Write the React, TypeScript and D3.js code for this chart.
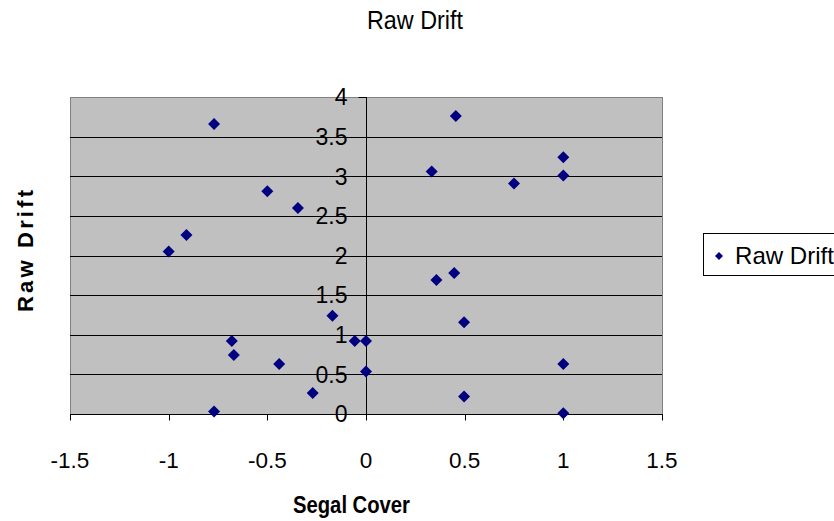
import React, { useEffect, useRef } from 'react';
import * as d3 from 'd3';

// Segal Cover (x) vs Raw Drift (y)
const segalCover = [
  -0.77, -0.5, -0.345, -0.91, -1.0, -0.17, -0.68, -0.67, -0.44, -0.27, -0.057, 0.0, 0.0, -0.77,
  0.455, 1.0, 0.333, 1.0, 0.75, 0.447, 0.357, 0.497, 1.0, 0.497, 1.0,
];
const rawDrift = [
  3.66, 2.81, 2.6, 2.26, 2.05, 1.24, 0.92, 0.745, 0.63, 0.265, 0.92, 0.92, 0.535, 0.03,
  3.76, 3.24, 3.06, 3.01, 2.91, 1.78, 1.69, 1.157, 0.63, 0.22, 0.01,
];
const xTicks = [-1.5, -1, -0.5, 0, 0.5, 1, 1.5];
const yTicks = [0, 0.5, 1, 1.5, 2, 2.5, 3, 3.5, 4];

const chartTitle = 'Raw Drift';
const xTitle = 'Segal Cover';
const yTitle = 'Raw Drift';
const seriesName = 'Raw Drift';

// square diamond (d3's symbolDiamond is taller than wide)
const diamondPath = (r: number) => `M0,${-r}L${r},0L0,${r}L${-r},0Z`;

const App: React.FC = () => {
  const svgRef = useRef<SVGSVGElement>(null);

  useEffect(() => {
    if (!svgRef.current) return;
    const svg = d3.select(svgRef.current);
    svg.selectAll('*').remove();

    const width = 834;
    const height = 521;
    const left = 70, right = 662, top = 97, bottom = 414;
    const font = '"Liberation Sans", Arial, sans-serif';
    const navy = '#000080';

    svg.attr('width', width).attr('height', height);

    const x = d3.scaleLinear().domain([-1.5, 1.5]).range([left, right]);
    const y = d3.scaleLinear().domain([0, 4]).range([bottom, top]);

    // plot area
    svg.append('rect')
      .attr('x', left + 0.5).attr('y', top + 0.5)
      .attr('width', right - left).attr('height', bottom - top)
      .style('fill', '#c0c0c0')
      .style('stroke', '#808080')
      .style('stroke-width', '1px');

    // gridlines
    svg.selectAll('.grid')
      .data(yTicks.filter(t => t > 0 && t < 4))
      .enter()
      .append('line')
      .attr('class', 'grid')
      .attr('x1', left).attr('x2', right)
      .attr('y1', d => Math.round(y(d)) + 0.5)
      .attr('y2', d => Math.round(y(d)) + 0.5)
      .style('stroke', '#000')
      .style('stroke-width', '1px');

    // x axis at y = 0
    const x0 = Math.round(y(0)) + 0.5;
    svg.append('line')
      .attr('x1', left).attr('x2', right + 1)
      .attr('y1', x0).attr('y2', x0)
      .style('stroke', '#000');
    svg.selectAll('.xtick')
      .data(xTicks)
      .enter()
      .append('line')
      .attr('x1', d => Math.round(x(d)) + 0.5)
      .attr('x2', d => Math.round(x(d)) + 0.5)
      .attr('y1', x0).attr('y2', x0 + 6)
      .style('stroke', '#000');
    svg.selectAll('.xlabel')
      .data(xTicks)
      .enter()
      .append('text')
      .attr('x', d => x(d))
      .attr('y', 468)
      .attr('text-anchor', 'middle')
      .style('font-family', font)
      .style('font-size', '22.5px')
      .text(d => String(d));

    // y axis at x = 0
    const y0 = Math.round(x(0)) + 0.5;
    svg.append('line')
      .attr('x1', y0).attr('x2', y0)
      .attr('y1', top).attr('y2', bottom)
      .style('stroke', '#000');
    svg.selectAll('.ytick')
      .data(yTicks)
      .enter()
      .append('line')
      .attr('x1', y0 - 8).attr('x2', y0)
      .attr('y1', d => Math.round(y(d)) + 0.5)
      .attr('y2', d => Math.round(y(d)) + 0.5)
      .style('stroke', '#000');
    svg.selectAll('.ylabel')
      .data(yTicks)
      .enter()
      .append('text')
      .attr('x', y0 - 19)
      .attr('y', d => y(d))
      .attr('dy', '0.36em')
      .attr('text-anchor', 'end')
      .style('font-family', font)
      .style('font-size', '23px')
      .text(d => String(d));

    // points
    svg.selectAll('.pt')
      .data(segalCover.map((v, i) => [v, rawDrift[i]]))
      .enter()
      .append('path')
      .attr('d', diamondPath(6))
      .attr('transform', d => `translate(${x(d[0])},${y(d[1])})`)
      .style('fill', navy);

    // titles
    svg.append('text')
      .attr('x', 367).attr('y', 29)
      .attr('textLength', 96)
      .attr('lengthAdjust', 'spacingAndGlyphs')
      .style('font-family', font)
      .style('font-size', '25px')
      .text(chartTitle);

    svg.append('text')
      .attr('x', 293).attr('y', 513)
      .attr('textLength', 117)
      .attr('lengthAdjust', 'spacingAndGlyphs')
      .style('font-family', font)
      .style('font-size', '24px')
      .style('font-weight', 'bold')
      .text(xTitle);

    svg.append('text')
      .attr('transform', 'translate(33,312) rotate(-90)')
      .attr('textLength', 122)
      .attr('lengthAdjust', 'spacing')
      .style('font-family', font)
      .style('font-size', '22px')
      .style('font-weight', 'bold')
      .text(yTitle);

    // legend
    svg.append('rect')
      .attr('x', 703.5).attr('y', 233.5)
      .attr('width', 140).attr('height', 42)
      .style('fill', '#fff')
      .style('stroke', '#000');
    svg.append('path')
      .attr('d', diamondPath(4))
      .attr('transform', 'translate(719,256)')
      .style('fill', navy);
    svg.append('text')
      .attr('x', 735).attr('y', 264)
      .attr('textLength', 99)
      .attr('lengthAdjust', 'spacingAndGlyphs')
      .style('font-family', font)
      .style('font-size', '24px')
      .text(seriesName);
  }, []);

  return (
    <div style={{ position: 'absolute', left: 0, top: 0 }}>
      <svg ref={svgRef} style={{ display: 'block', background: '#fff' }}></svg>
    </div>
  );
};

export default App;
